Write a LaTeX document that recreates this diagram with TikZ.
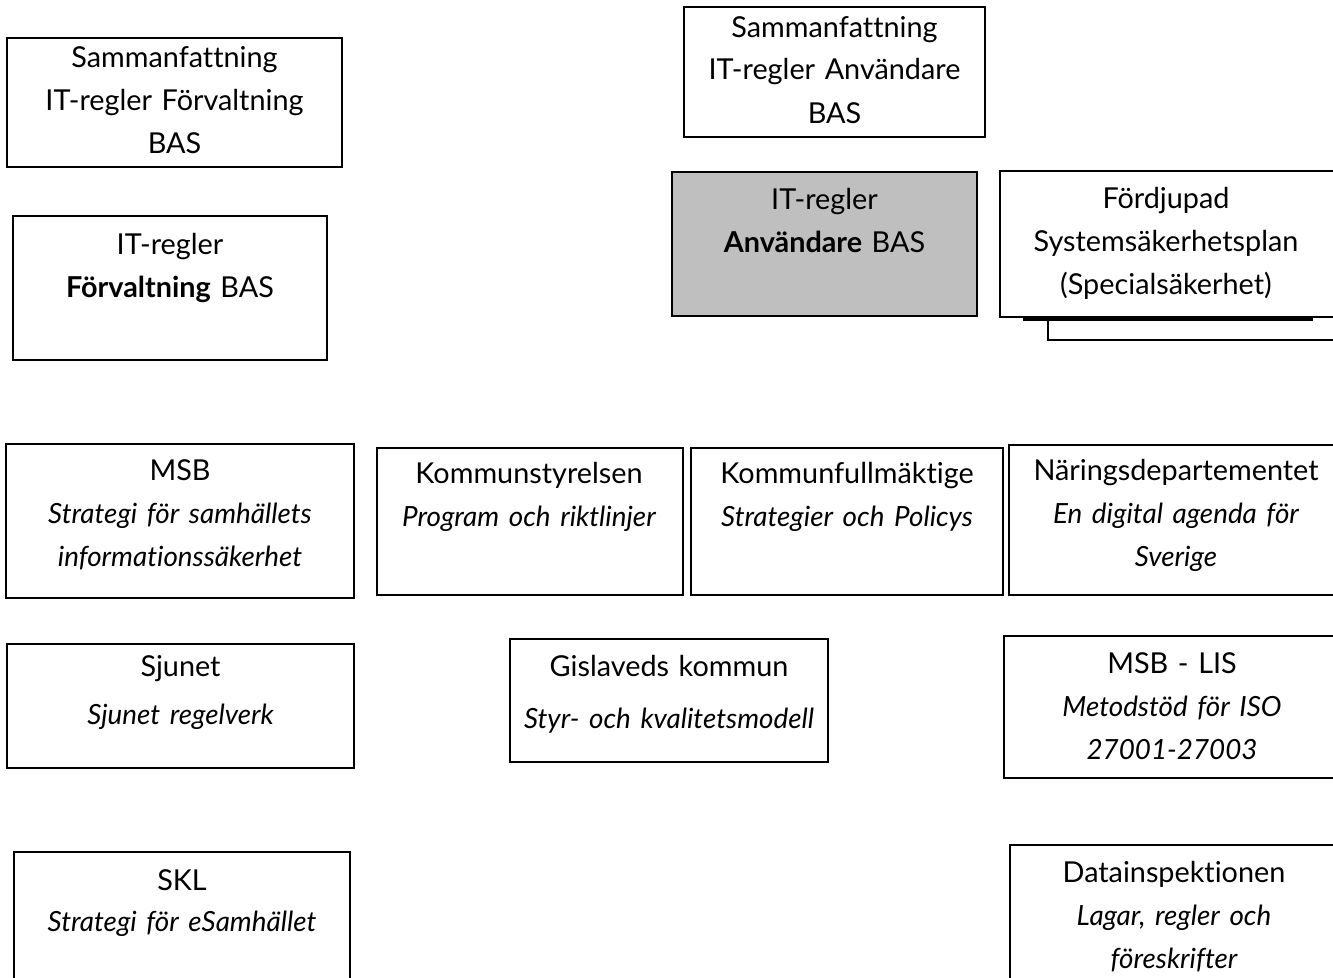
\documentclass[tikz,border=0pt]{standalone}
\usepackage{fontspec}
\setmainfont{Lato}[Ligatures=NoCommon, WordSpace=0.65]
\usetikzlibrary{calc}
\tikzset{
  box/.style={draw=black, line width=1.6pt, fill=white, inner sep=0pt, outer sep=0pt},
  graybox/.style={box, fill=black!25},
  txt/.style={anchor=base, align=center, inner sep=0pt, text width=420pt,
    font=\fontsize{28.8}{43}\selectfont},
}
% name, x1, y1, x2, y2, text x, first baseline y, text, style
\newcommand\rbox[9]{%
  \node[#9, minimum width={#4-#2}, minimum height={#5-#3}] (#1) at ({(#2+#4)/2},{(#3+#5)/2}) {};
  \node[txt] (#1-t) at (#6,#7) {#8};}
\newcommand\itx[1]{{\fontsize{27.8}{43}\selectfont\itshape #1}}
\begin{document}
\begin{tikzpicture}[x=1pt,y=-1pt]
\useasboundingbox[fill=white] (0,0) rectangle (1333,977);
% stacked page behind the Fördjupad box
\coordinate (bk1) at (1048,318);
\coordinate (bk2) at (1345,340);
\draw[line width=1.6pt] (bk1) |- (bk2);

\rbox{sfv}{7}{38}{342}{167}{174.5}{67}{Sammanfattning\\IT-regler Förvaltning\\BAS}{box}
\rbox{fv}{13}{216}{327}{360}{170}{254}{IT-regler\\\textbf{Förvaltning} BAS}{box}
\rbox{san}{684}{7}{985}{137}{834.5}{37}{Sammanfattning\\IT-regler Användare\\BAS}{box}
\rbox{an}{672}{172}{977}{316}{824.5}{209}{IT-regler\\\textbf{Användare} BAS}{graybox}
\rbox{fd}{1000}{171}{1334}{317}{1166}{208}{Fördjupad\\Systemsäkerhetsplan\\(Specialsäkerhet)}{box}
\coordinate (sh1) at (1023,319.5);
\coordinate (sh2) at (1313,319.5);
\draw[line width=2.6pt] (sh1) -- (sh2);

\rbox{msb}{6}{444}{354}{598}{180}{480}{MSB\\\itx{Strategi för samhällets}\\\itx{informationssäkerhet}}{box}
\rbox{ks}{377}{448}{683}{595}{529}{483}{Kommunstyrelsen\\\itx{Program och riktlinjer}}{box}
\rbox{kf}{691}{448}{1003}{595}{847}{483}{Kommunfullmäktige\\\itx{Strategier och Policys}}{box}
\rbox{nd}{1009}{445}{1345}{595}{1176}{480}{Näringsdepartementet\\\itx{En digital agenda för}\\\itx{Sverige}}{box}

\rbox{sj}{7}{644}{354}{768}{180.5}{676}{Sjunet\\[5pt]\itx{Sjunet regelverk}}{box}
\rbox{gk}{510}{639}{828}{762}{669}{676}{Gislaveds kommun\\[9pt]\itx{Styr- och kvalitetsmodell}}{box}
\rbox{lis}{1004}{636}{1345}{778}{1172}{673}{MSB - LIS\\\itx{Metodstöd för ISO}\\\itx{27001-27003}}{box}

\rbox{skl}{14}{852}{350}{995}{182}{890}{SKL\\[-2pt]\itx{Strategi för eSamhället}}{box}
\rbox{di}{1010}{845}{1345}{995}{1174}{882}{Datainspektionen\\\itx{Lagar, regler och}\\\itx{föreskrifter}}{box}
\end{tikzpicture}
\end{document}
